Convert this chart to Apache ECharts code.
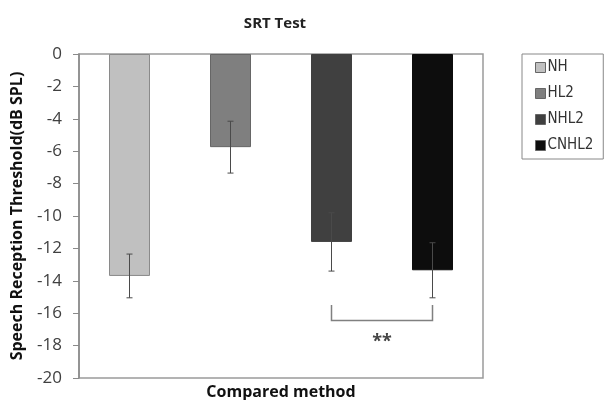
<!DOCTYPE html>
<html>
<head>
<meta charset="utf-8">
<script src="https://cdn.jsdelivr.net/npm/echarts@6/dist/echarts.min.js"></script>
<style>html,body{margin:0;padding:0;background:#fff}#c{width:605px;height:400px}</style>
</head>
<body>
<div id="c"></div>
<script>
var titleText = 'SRT Test';
var categories = ['NH', 'HL2', 'NHL2', 'CNHL2'];
var means = [-13.7, -5.75, -11.6, -13.35];
var errors = [1.35, 1.6, 1.8, 1.7];
var colors = ['#c0c0c0', '#7f7f7f', '#404040', '#0d0d0d'];
var yTicks = [0, -2, -4, -6, -8, -10, -12, -14, -16, -18, -20];
var sigPair = [2, 3];
var sigTop = -15.5;
var sigBottom = -16.45;
var sigTextY = -17.75;
var sigLabel = '**';
var yName = 'Speech Reception Threshold(dB SPL)';
var xName = 'Compared method';

var FONT = 'Open Sans';
var chart = echarts.init(document.getElementById('c'));

var series = categories.map(function (c, i) {
  return {
    name: c,
    type: 'bar',
    barWidth: 41,
    barGap: '-100%',
    itemStyle: { color: colors[i], borderColor: i === 0 ? '#8a8a8a' : (i === 1 ? '#666' : colors[i]), borderWidth: 1 },
    data: categories.map(function (d, j) { return j === i ? means[i] : null; }),
    z: 2
  };
});

series.push({
  type: 'custom',
  z: 5,
  data: means.map(function (m, i) { return [i, m, errors[i]]; }),
  renderItem: function (params, api) {
    var i = api.value(0), m = api.value(1), e = api.value(2);
    var top = api.coord([i, m + e]);
    var bot = api.coord([i, m - e]);
    var cap = 3;
    var st = { stroke: '#4a4a4a', lineWidth: 1 };
    return {
      type: 'group',
      children: [
        { type: 'line', shape: { x1: top[0], y1: top[1], x2: bot[0], y2: bot[1] }, style: st },
        { type: 'line', shape: { x1: top[0] - cap, y1: top[1], x2: top[0] + cap, y2: top[1] }, style: st },
        { type: 'line', shape: { x1: bot[0] - cap, y1: bot[1], x2: bot[0] + cap, y2: bot[1] }, style: st }
      ]
    };
  }
});

series.push({
  type: 'custom',
  z: 5,
  data: [[sigPair[0], sigPair[1], sigTop, sigBottom, sigTextY]],
  renderItem: function (params, api) {
    var a = api.value(0), b = api.value(1);
    var t = api.value(2), bt = api.value(3), ty = api.value(4);
    var p1 = api.coord([a, t]), p2 = api.coord([a, bt]);
    var p3 = api.coord([b, bt]), p4 = api.coord([b, t]);
    var tp = api.coord([a, ty]);
    var mx = (p1[0] + p4[0]) / 2;
    return {
      type: 'group',
      children: [
        { type: 'polyline', shape: { points: [p1, p2, p3, p4] }, style: { stroke: '#808080', lineWidth: 1.5, fill: null } },
        { type: 'text', style: { x: mx, y: tp[1], text: sigLabel, fill: '#444', font: 'bold 18px "' + FONT + '"', textAlign: 'center', textVerticalAlign: 'middle' } }
      ]
    };
  }
});

chart.setOption({
  animation: false,
  backgroundColor: '#fff',
  title: {
    text: titleText,
    left: 270,
    top: 11,
    textAlign: 'center',
    textStyle: { fontFamily: FONT, fontSize: 15, fontWeight: 'bold', color: '#222' }
  },
  legend: {
    orient: 'vertical',
    left: 522,
    top: 54,
    padding: [6, 10, 6, 13],
    itemGap: 11,
    itemWidth: 10,
    itemHeight: 10,
    borderColor: '#888',
    borderWidth: 1,
    icon: 'rect',
    textStyle: { fontFamily: '"DejaVu Sans Condensed", "Liberation Sans"', fontSize: 15, color: '#333', padding: [0, 0, 0, -3] },
    data: categories.map(function (c, i) {
      return { name: c, itemStyle: { color: colors[i], borderColor: '#666', borderWidth: 1 } };
    })
  },
  grid: {
    left: 79, top: 54, right: 122, bottom: 22,
    outerBoundsMode: 'none',
    containLabel: false,
    show: true, borderColor: '#9a9a9a', borderWidth: 1.5, backgroundColor: 'transparent'
  },
  xAxis: {
    type: 'category',
    data: categories,
    name: xName,
    nameLocation: 'middle',
    nameGap: 6,
    nameTextStyle: { fontFamily: FONT, fontSize: 16, fontWeight: 'bold', color: '#111' },
    axisLine: { show: false, onZero: false },
    axisTick: { show: false },
    axisLabel: { show: false },
    splitLine: { show: false }
  },
  yAxis: {
    type: 'value',
    min: -20,
    max: 0,
    interval: 2,
    name: yName,
    nameLocation: 'middle',
    nameRotate: 90,
    nameGap: 54,
    nameTextStyle: { fontFamily: FONT, fontSize: 16, fontWeight: 'bold', color: '#111' },
    axisLine: { show: true, lineStyle: { color: '#8a8a8a', width: 1.5 } },
    axisTick: { show: true, length: 6, lineStyle: { color: '#8a8a8a' } },
    axisLabel: {
      fontFamily: FONT, fontSize: 17, color: '#404040', margin: 17,
      formatter: function (v) { return yTicks.indexOf(v) >= 0 ? String(v) : ''; }
    },
    splitLine: { show: false }
  },
  series: series
});
</script>
</body>
</html>
